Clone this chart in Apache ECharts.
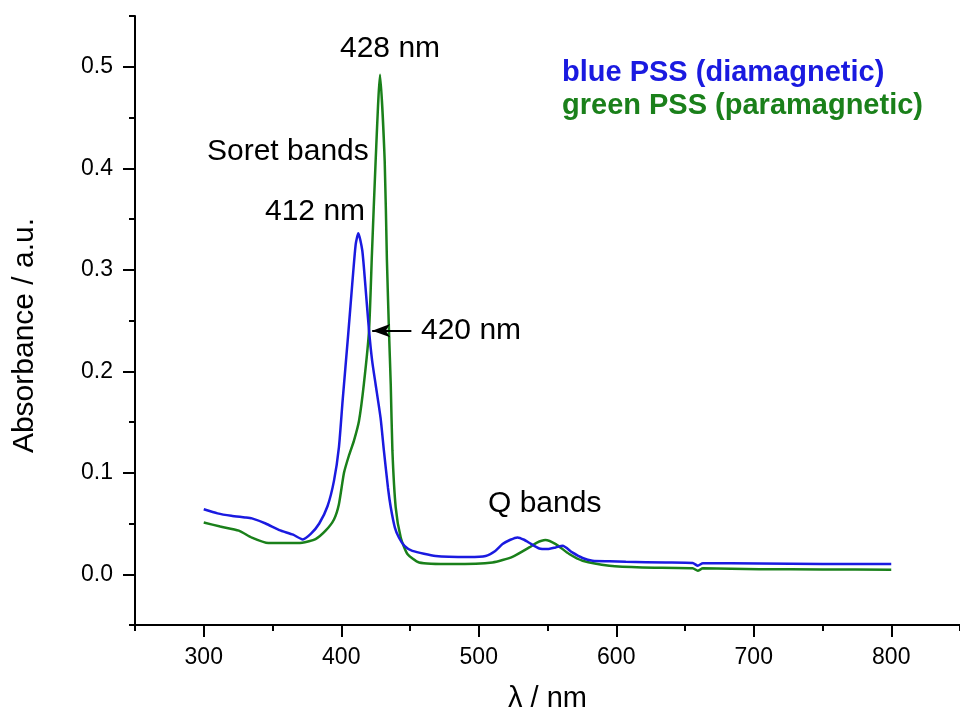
<!DOCTYPE html>
<html>
<head>
<meta charset="utf-8">
<script src="https://cdn.jsdelivr.net/npm/echarts@6/dist/echarts.min.js"></script>
<style>
  html, body { margin: 0; padding: 0; background: #fff; }
  #chart { width: 960px; height: 715px; }
</style>
</head>
<body>
<div id="chart"></div>
<script>
// wavelength (nm) / absorbance pairs
const blueWl = [300, 310, 320, 330, 335, 345, 355, 365, 372, 378, 384, 390, 394.7, 398.3, 401, 405.1, 408, 410.5, 412.4, 415.3, 417.8, 420.2, 422.5, 425, 428.6, 431, 434, 436, 439, 442, 446, 451.7, 468.7, 493, 505, 512, 517.3, 523, 528.2, 533, 536.7, 544, 550, 556, 561, 568, 575.5, 582.8, 595, 607, 636, 655.6, 659.3, 663, 704, 750, 800];
const blueAbs = [0.064, 0.060, 0.0576, 0.056, 0.055, 0.050, 0.0435, 0.039, 0.0343, 0.040, 0.050, 0.067, 0.092, 0.125, 0.171, 0.237, 0.286, 0.325, 0.336, 0.319, 0.28, 0.24, 0.21, 0.187, 0.154, 0.122, 0.085, 0.066, 0.046, 0.036, 0.028, 0.023, 0.018, 0.017, 0.018, 0.023, 0.0297, 0.034, 0.0363, 0.034, 0.031, 0.0254, 0.0248, 0.0264, 0.028, 0.0215, 0.016, 0.0133, 0.0128, 0.0123, 0.0116, 0.011, 0.0084, 0.0108, 0.0106, 0.0102, 0.010];

const greenWl = [300, 312, 325.5, 335, 347, 359.5, 371.6, 381.3, 388.6, 394.7, 398.3, 402, 405.6, 409.2, 412.9, 416.5, 420.2, 422.3, 425, 428.2, 431.6, 433.2, 434.7, 436, 437.2, 439.6, 443.3, 448.1, 456.6, 480.8, 510, 524.5, 536.7, 542, 548.4, 556, 565.8, 575.5, 595, 619, 655.6, 659.3, 663, 704, 750, 800];
const greenAbs = [0.051, 0.047, 0.043, 0.036, 0.0307, 0.0307, 0.031, 0.0347, 0.0429, 0.054, 0.069, 0.100, 0.117, 0.1315, 0.151, 0.188, 0.24, 0.315, 0.407, 0.492, 0.407, 0.31, 0.24, 0.187, 0.122, 0.066, 0.036, 0.020, 0.0116, 0.010, 0.0116, 0.0172, 0.0264, 0.031, 0.0337, 0.0297, 0.0199, 0.0133, 0.0084, 0.0067, 0.006, 0.0035, 0.0058, 0.005, 0.0048, 0.0045];

const xMajorTicks = [300, 400, 500, 600, 700, 800];
const xMinorTicks = [250, 350, 450, 550, 650, 750, 850];
const yMajorTicks = [0, 0.1, 0.2, 0.3, 0.4, 0.5];
const yMinorTicks = [-0.05, 0.05, 0.15, 0.25, 0.35, 0.45, 0.55];

const seriesNames = ['blue PSS (diamagnetic)', 'green PSS (paramagnetic)'];
const pair = (xs, ys) => xs.map((x, i) => [x, ys[i]]);

const font = '"Liberation Sans", Arial, sans-serif';
const BLUE = '#1a1ae0', GREEN = '#1a801a';

const chart = echarts.init(document.getElementById('chart'));

const axisBase = {
  type: 'value',
  splitLine: { show: false },
};
const axisLineOn = { show: true, onZero: false, lineStyle: { color: '#000', width: 2 } };
const axisLineOff = { show: false, onZero: false };
const tick = (values, length) => ({
  show: true, inside: false, customValues: values, length, lineStyle: { color: '#000', width: 2 },
});

chart.setOption({
  animation: false,
  backgroundColor: '#fff',
  grid: { left: 135, right: 0, top: 16, bottom: 90, containLabel: false, outerBoundsMode: 'none' },
  legend: {
    orient: 'vertical',
    left: 552,
    top: 53,
    itemWidth: 0,
    itemHeight: 0,
    itemGap: 4,
    icon: 'rect',
    selectedMode: false,
    data: [
      { name: seriesNames[0], textStyle: { color: BLUE } },
      { name: seriesNames[1], textStyle: { color: GREEN } },
    ],
    textStyle: { fontFamily: font, fontSize: 29, fontWeight: 'bold' },
  },
  xAxis: [
    {
      ...axisBase,
      min: 250, max: 850,
      axisLine: axisLineOn,
      name: 'λ / nm',
      nameLocation: 'middle',
      nameGap: 59,
      nameTextStyle: { fontFamily: font, fontSize: 29, color: '#000' },
      axisTick: tick(xMajorTicks, 12),
      axisLabel: { customValues: xMajorTicks, margin: 21, fontFamily: font, fontSize: 23, color: '#000' },
    },
    {
      ...axisBase,
      position: 'bottom',
      min: 250, max: 850,
      axisLine: axisLineOff,
      axisTick: tick(xMinorTicks, 6),
      axisLabel: { show: false },
    },
  ],
  yAxis: [
    {
      ...axisBase,
      min: -0.05, max: 0.55,
      axisLine: axisLineOn,
      name: 'Absorbance / a.u.',
      nameLocation: 'middle',
      nameGap: 95,
      nameTextStyle: { fontFamily: font, fontSize: 30, color: '#000', padding: [0, 30, 0, 0] },
      axisTick: tick(yMajorTicks, 12),
      axisLabel: { customValues: yMajorTicks, margin: 22, fontFamily: font, fontSize: 23, color: '#000',
        formatter: (v) => v.toFixed(1) },
    },
    {
      ...axisBase,
      position: 'left',
      min: -0.05, max: 0.55,
      axisLine: axisLineOff,
      axisTick: tick(yMinorTicks, 6),
      axisLabel: { show: false },
    },
  ],
  series: [
    {
      name: seriesNames[0],
      type: 'line',
      data: pair(blueWl, blueAbs),
      showSymbol: false,
      smooth: 0.2,
      color: BLUE,
      lineStyle: { color: BLUE, width: 2.5 },
      z: 3,
    },
    {
      name: seriesNames[1],
      type: 'line',
      data: pair(greenWl, greenAbs),
      showSymbol: false,
      smooth: 0.2,
      color: GREEN,
      lineStyle: { color: GREEN, width: 2.5 },
      z: 2,
      markLine: {
        silent: true,
        symbol: ['none', 'arrow'],
        symbolSize: [10, 18],
        label: { show: false },
        lineStyle: { color: '#000', width: 2, type: 'solid' },
        data: [[{ coord: [451, 0.24] }, { coord: [422.5, 0.24] }]],
      },
    },
  ],
  graphic: [
    { type: 'text', left: 340, top: 34, style: { text: '428 nm', font: '30px ' + font, fill: '#000' } },
    { type: 'text', left: 207, top: 137, style: { text: 'Soret bands', font: '30px ' + font, fill: '#000' } },
    { type: 'text', left: 265, top: 197, style: { text: '412 nm', font: '30px ' + font, fill: '#000' } },
    { type: 'text', left: 421, top: 316, style: { text: '420 nm', font: '30px ' + font, fill: '#000' } },
    { type: 'text', left: 488, top: 489, style: { text: 'Q bands', font: '30px ' + font, fill: '#000' } },
  ],
});
</script>
</body>
</html>
